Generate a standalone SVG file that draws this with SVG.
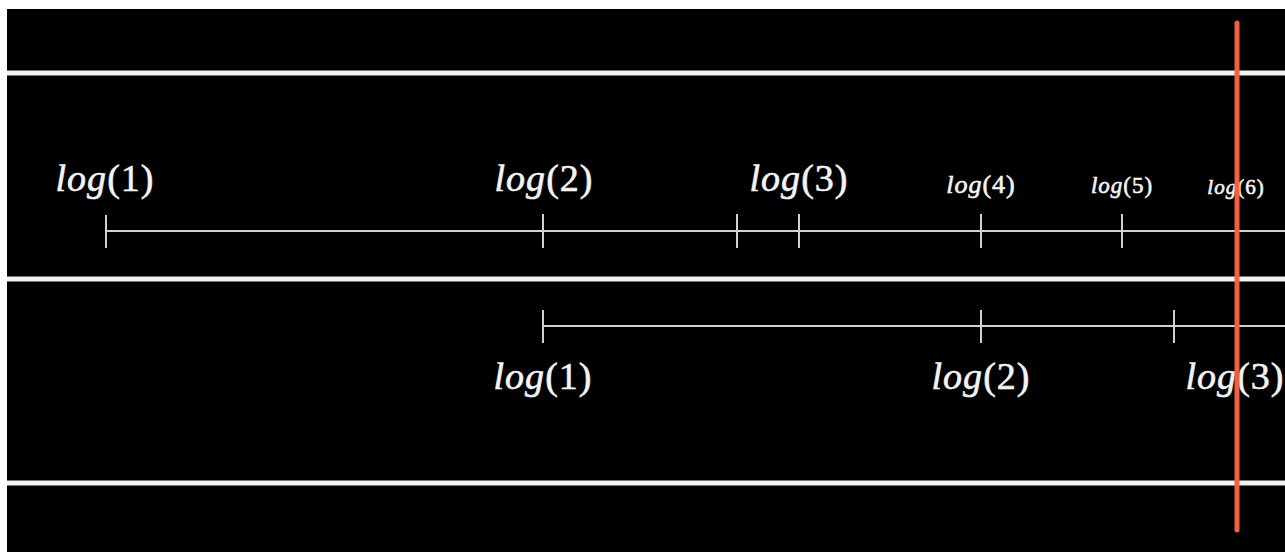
<svg xmlns="http://www.w3.org/2000/svg" width="1285" height="552" viewBox="0 0 1285 552">
<style>
.band{stroke:#f2f2f2;stroke-width:5}
.axis{stroke:#d0d0d0;stroke-width:2;fill:none}
.tick{stroke:#d0d0d0;stroke-width:2}
.lbl{font-family:"Liberation Serif","DejaVu Serif",serif;fill:#f4f4f4;stroke:#f4f4f4;stroke-width:0.6;text-anchor:middle;letter-spacing:1px}
.it{font-style:italic}
</style>
<rect x="0" y="0" width="1285" height="552" fill="#ffffff"/>
<rect x="7" y="9" width="1278" height="543" fill="#000000"/>
<g id="bands">
<line class="band" x1="7" y1="73" x2="1285" y2="73"/>
<line class="band" x1="7" y1="279" x2="1285" y2="279"/>
<line class="band" x1="7" y1="483" x2="1285" y2="483"/>
</g>
<g id="connectors">
<line class="axis" x1="106" y1="231" x2="1285" y2="231"/>
<line class="axis" x1="543" y1="326" x2="1285" y2="326"/>
</g>
<g id="top-ticks">
<line class="tick" x1="106" y1="215" x2="106" y2="248"/>
<line class="tick" x1="543" y1="214" x2="543" y2="248"/>
<line class="tick" x1="737" y1="214" x2="737" y2="248"/>
<line class="tick" x1="799" y1="214" x2="799" y2="248"/>
<line class="tick" x1="981" y1="214" x2="981" y2="248"/>
<line class="tick" x1="1122" y1="214" x2="1122" y2="248"/>
<line class="tick" x1="1237" y1="214" x2="1237" y2="248"/>
</g>
<g id="bottom-ticks">
<line class="tick" x1="543" y1="310" x2="543" y2="343"/>
<line class="tick" x1="981" y1="310" x2="981" y2="343"/>
<line class="tick" x1="1174" y1="310" x2="1174" y2="343"/>
<line class="tick" x1="1237" y1="310" x2="1237" y2="343"/>
</g>
<g id="top-labels">
<text id="t-log1" class="lbl" x="105" y="191" font-size="38"><tspan class="it">log</tspan>(1)</text>
<text id="t-log2" class="lbl" x="544" y="191" font-size="38"><tspan class="it">log</tspan>(2)</text>
<text id="t-log3" class="lbl" x="799" y="191" font-size="38"><tspan class="it">log</tspan>(3)</text>
<text id="t-log4" class="lbl" x="981" y="193" font-size="26"><tspan class="it">log</tspan>(4)</text>
<text id="t-log5" class="lbl" x="1122" y="193" font-size="23"><tspan class="it">log</tspan>(5)</text>
<text id="t-log6" class="lbl" x="1236" y="194" font-size="21"><tspan class="it">log</tspan>(6)</text>
</g>
<g id="bottom-labels">
<text id="b-log1" class="lbl" x="543" y="389" font-size="38"><tspan class="it">log</tspan>(1)</text>
<text id="b-log2" class="lbl" x="981" y="389" font-size="38"><tspan class="it">log</tspan>(2)</text>
<text id="b-log3" class="lbl" x="1235" y="389" font-size="38"><tspan class="it">log</tspan>(3)</text>
</g>
<g id="cursor">
<line x1="1237" y1="23" x2="1237" y2="530" stroke="#f2603f" stroke-width="5" stroke-linecap="round"/>
</g>
</svg>
